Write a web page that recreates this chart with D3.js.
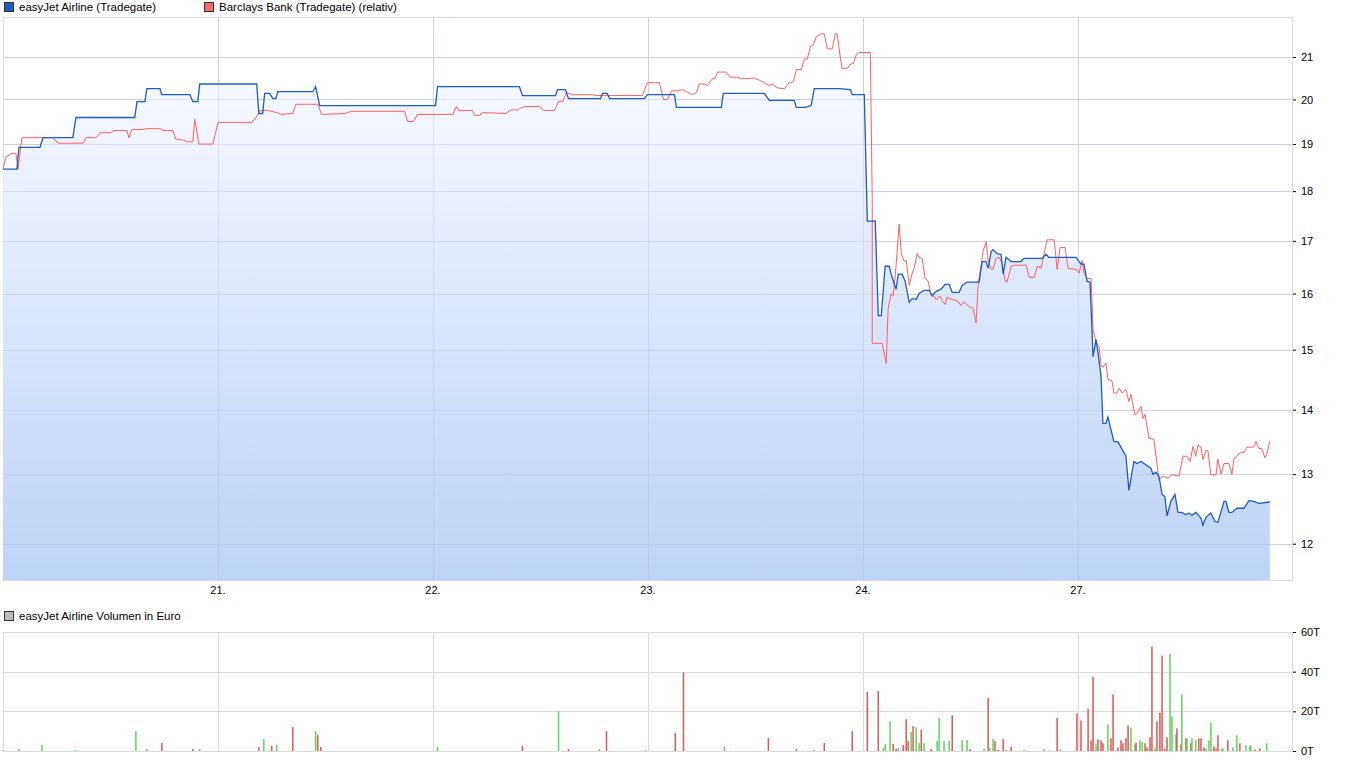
<!DOCTYPE html>
<html><head><meta charset="utf-8">
<script src="https://cdn.jsdelivr.net/npm/d3@7"></script>
<style>body{margin:0;background:#fff}svg{display:block;font-family:"Liberation Sans",Arial,sans-serif}</style>
</head><body><svg id="c" width="1350" height="766"></svg>
<script>
// day index: 0=20., 1=21., 2=22., 3=23., 4=24., 5=27.
const dayLabels = ["21.","22.","23.","24.","27."];
const dayTicks = [1,2,3,4,5];
const priceTicks = [12,13,14,15,16,17,18,19,20,21];
const volTicks = [0,20,40,60];
const volTickLabels = ["0T","20T","40T","60T"];

const easyT = [0,.065,.074,.172,.186,.325,.339,.613,.623,.660,.669,.730,.739,.869,.883,.906,.915,1.180,1.190,1.208,1.217,1.241,1.255,1.269,1.278,1.441,1.454,1.473,2.012,2.021,2.402,2.416,2.570,2.579,2.616,2.630,2.779,2.788,2.811,2.821,2.983,2.997,3.123,3.132,3.341,3.350,3.541,3.564,3.680,3.690,3.731,3.759,3.773,3.889,3.941,3.950,4.006,4.020,4.057,4.071,4.085,4.103,4.122,4.131,4.154,4.164,4.182,4.196,4.215,4.229,4.247,4.261,4.284,4.308,4.322,4.340,4.363,4.382,4.401,4.415,4.447,4.461,4.484,4.540,4.554,4.572,4.582,4.596,4.605,4.624,4.642,4.652,4.665,4.689,4.735,4.749,4.833,4.851,4.865,4.991,5.014,5.028,5.042,5.056,5.070,5.084,5.093,5.107,5.116,5.130,5.139,5.167,5.186,5.223,5.237,5.260,5.274,5.293,5.339,5.349,5.363,5.377,5.391,5.404,5.414,5.432,5.451,5.465,5.483,5.502,5.516,5.530,5.548,5.572,5.581,5.595,5.618,5.637,5.651,5.679,5.688,5.702,5.716,5.739,5.772,5.795,5.818,5.841,5.892];
const easyV = [18.46,18.46,18.93,18.93,19.14,19.14,19.59,19.59,19.95,19.95,20.25,20.25,20.11,20.11,19.95,19.95,20.36,20.36,19.68,19.68,20.14,20.14,20.02,20.02,20.18,20.18,20.30,19.86,19.86,20.30,20.30,20.09,20.09,20.23,20.23,20.02,20.02,20.14,20.14,20.02,20.02,20.11,20.11,19.82,19.82,20.14,20.14,19.98,19.98,19.82,19.82,19.86,20.25,20.25,20.23,20.11,20.11,17.39,17.39,15.60,15.60,16.51,16.51,16.36,16.08,16.36,16.36,16.23,15.84,15.91,15.89,16.00,16.06,16.06,15.96,16.04,16.08,16.17,16.17,16.02,16.02,16.15,16.21,16.21,16.60,16.60,16.47,16.79,16.83,16.75,16.74,16.36,16.68,16.60,16.60,16.66,16.66,16.74,16.68,16.68,16.55,16.55,16.23,16.21,14.88,15.18,14.95,14.55,13.78,13.78,13.88,13.50,13.49,13.27,12.76,13.19,13.16,13.19,13.09,13.00,13.03,12.96,12.70,12.67,12.39,12.60,12.70,12.44,12.44,12.41,12.43,12.40,12.44,12.36,12.26,12.37,12.43,12.31,12.30,12.60,12.60,12.44,12.44,12.50,12.50,12.61,12.60,12.57,12.59];

const barcT = [0,.014,.042,.060,.070,.088,.232,.256,.372,.386,.432,.455,.502,.516,.576,.586,.599,.646,.669,.730,.744,.790,.804,.836,.855,.883,.892,.911,.976,1.000,1.157,1.171,1.185,1.194,1.231,1.273,1.292,1.348,1.362,1.464,1.482,1.589,1.622,1.868,1.882,1.910,1.928,2.091,2.110,2.119,2.184,2.193,2.217,2.231,2.342,2.356,2.379,2.389,2.407,2.426,2.495,2.514,2.565,2.584,2.602,2.621,2.649,2.742,2.760,2.974,2.997,3.053,3.072,3.090,3.109,3.137,3.160,3.179,3.206,3.225,3.239,3.262,3.276,3.299,3.313,3.323,3.364,3.383,3.416,3.434,3.494,3.518,3.541,3.564,3.578,3.601,3.634,3.657,3.676,3.690,3.713,3.727,3.741,3.755,3.769,3.783,3.806,3.820,3.834,3.857,3.871,3.880,3.894,3.903,3.927,3.945,3.955,3.968,3.982,4.034,4.043,4.043,4.089,4.108,4.117,4.131,4.141,4.154,4.168,4.178,4.192,4.201,4.215,4.229,4.238,4.252,4.261,4.275,4.289,4.303,4.317,4.331,4.340,4.359,4.368,4.382,4.391,4.415,4.438,4.457,4.470,4.494,4.512,4.526,4.535,4.549,4.559,4.573,4.582,4.596,4.605,4.619,4.633,4.647,4.661,4.670,4.689,4.703,4.759,4.773,4.796,4.810,4.828,4.856,4.889,4.903,4.917,4.940,4.954,4.991,5.005,5.019,5.028,5.042,5.061,5.070,5.084,5.098,5.107,5.116,5.130,5.139,5.158,5.167,5.181,5.191,5.205,5.223,5.237,5.246,5.265,5.274,5.293,5.302,5.312,5.330,5.353,5.377,5.391,5.419,5.437,5.470,5.488,5.507,5.521,5.535,5.548,5.558,5.572,5.581,5.595,5.604,5.618,5.642,5.651,5.665,5.679,5.702,5.716,5.725,5.739,5.758,5.772,5.786,5.818,5.828,5.841,5.855,5.869,5.878,5.892];
const barcV = [18.46,18.72,18.80,18.80,18.46,19.14,19.14,19.02,19.02,19.14,19.14,19.25,19.25,19.30,19.30,19.14,19.32,19.32,19.34,19.34,19.30,19.30,19.11,19.09,19.05,19.05,19.55,19.00,19.00,19.48,19.48,19.55,19.66,19.75,19.75,19.70,19.66,19.68,19.89,19.89,19.66,19.68,19.73,19.73,19.50,19.50,19.66,19.66,19.84,19.75,19.75,19.64,19.64,19.70,19.68,19.75,19.77,19.75,19.80,19.84,19.84,19.75,19.75,19.95,19.95,20.16,20.11,20.11,20.09,20.09,20.39,20.39,20.00,20.00,20.20,20.20,20.23,20.18,20.11,20.16,20.36,20.36,20.32,20.48,20.50,20.64,20.64,20.52,20.52,20.48,20.50,20.45,20.39,20.32,20.36,20.27,20.25,20.39,20.41,20.70,20.70,20.95,20.95,21.25,21.30,21.50,21.57,21.57,21.20,21.20,21.57,21.57,21.00,20.73,20.73,20.84,20.84,21.05,21.11,21.11,17.82,15.11,15.11,14.77,15.73,16.00,15.96,16.53,17.33,16.75,16.60,16.62,16.15,16.38,16.47,16.75,16.68,16.66,16.28,16.23,15.96,15.95,15.89,15.95,15.87,15.80,15.93,15.89,15.87,15.78,15.85,15.76,15.73,15.47,16.13,16.53,16.81,16.98,16.62,16.45,16.45,16.66,16.68,16.57,16.23,16.21,16.51,16.53,16.53,16.30,16.30,16.51,16.47,17.02,17.02,16.45,16.87,16.87,16.47,16.45,16.38,16.62,16.38,16.28,16.28,15.36,15.13,15.05,14.75,14.70,14.77,14.50,14.47,14.27,14.27,14.35,14.27,14.33,14.13,14.25,13.92,13.94,14.05,13.86,13.92,13.55,13.53,12.91,12.97,12.94,12.99,12.97,13.27,13.27,13.19,13.42,13.27,13.44,13.41,13.22,13.36,13.36,12.99,12.99,13.23,13.00,13.16,13.16,13.00,13.23,13.27,13.33,13.33,13.41,13.41,13.50,13.39,13.39,13.25,13.30,13.50];

const volT = [0,.074,.181,.335,.618,.669,.739,.883,.915,1.190,1.213,1.250,1.273,1.348,1.454,1.464,1.478,2.021,2.416,2.584,2.630,2.774,2.807,2.988,3.127,3.165,3.355,3.560,3.690,3.722,3.773,3.820,3.950,4.020,4.071,4.094,4.103,4.126,4.140,4.154,4.164,4.187,4.201,4.210,4.224,4.233,4.247,4.261,4.271,4.284,4.317,4.345,4.354,4.377,4.401,4.415,4.461,4.484,4.498,4.563,4.582,4.591,4.605,4.614,4.628,4.652,4.665,4.689,4.749,4.842,4.865,4.903,4.917,4.995,5.014,5.047,5.061,5.070,5.084,5.093,5.107,5.116,5.139,5.153,5.163,5.186,5.200,5.209,5.223,5.233,5.246,5.265,5.270,5.288,5.298,5.312,5.321,5.335,5.344,5.358,5.367,5.381,5.391,5.404,5.414,5.428,5.437,5.456,5.460,5.479,5.483,5.502,5.507,5.525,5.530,5.548,5.562,5.572,5.586,5.595,5.609,5.618,5.632,5.642,5.651,5.669,5.674,5.697,5.720,5.739,5.753,5.781,5.799,5.804,5.823,5.846,5.878];
const volV = [0.5,1,3,0.5,10,1,4,1,1,2,6,2.5,3,12,10,8,2,2,2.5,20,1,1,10,0.5,9,39.7,2,6.5,1,0.2,0.5,4,10,29.7,30.3,1.5,3.5,15,3.5,1,1.5,3,16,5,9.6,12.6,12,4,10.6,4,1,5,16.6,5,5,18,5.5,5.5,1,1,26.7,1.5,6,5,0.5,6,0.5,2,0.5,1,0.2,16.8,0.8,19,15.4,21.4,5.4,37.5,3.4,5.9,5.4,3.9,13.4,6.4,28.5,1.8,5.4,3.9,6.4,12.9,11.9,3.4,4.2,5.4,4.7,3.9,1.8,6.9,52.6,1.3,14.9,19.3,48.1,1.3,6.9,49.1,17.4,8.4,11.4,3.4,28.5,6.4,6.4,3.9,6.4,5.4,6.4,6.4,1.8,1.3,5.4,14.4,2.3,1.3,7.9,1.3,1.3,5.4,1.8,7.9,3.9,2.8,2.3,2.8,0.8,1.3,3.9];
const volDir = "gggggg" + "rrg" + "rgrgrgrr" + "grgrgrgrrgrrggrrrr" + "gggrrgrrrgrggrgrggggrggrgrggrrrgrggrrg" + "rrrrrgrrrgrrrrrrrggrggrrrrgrrrrrgggrrgrgrggrrrgggrrrggrggrgggrrg";

const svg = d3.select("#c");
const L = 3, R = 1293, T = 17, B = 580, VT = 632, VB = 751;
const x = d3.scaleLinear().domain([0,6]).range([L, R]);
const y = d3.scaleLog().domain([11.51, 21.99]).range([B, T]);
const yv = d3.scaleLinear().domain([0,60]).range([VB, VT]);
const grid = "#dcdcdc";

const defs = svg.append("defs");
const g = defs.append("linearGradient").attr("id","fillg").attr("x1",0).attr("y1",0).attr("x2",0).attr("y2",1);
g.append("stop").attr("offset","0%").attr("stop-color","#f4f7fe");
g.append("stop").attr("offset","100%").attr("stop-color","#b7cff6");

svg.append("rect").attr("x",L+0.5).attr("y",T+0.5).attr("width",R-L-1).attr("height",B-T).attr("fill","none").attr("stroke",grid);
svg.append("g").selectAll("line").data(priceTicks).join("line")
  .attr("x1",L).attr("x2",R).attr("y1",d=>Math.round(y(d))+0.5).attr("y2",d=>Math.round(y(d))+0.5).attr("stroke",grid);
svg.append("g").selectAll("line").data(dayTicks).join("line")
  .attr("x1",d=>Math.round(x(d))+0.5).attr("x2",d=>Math.round(x(d))+0.5).attr("y1",T).attr("y2",B).attr("stroke",grid);

const easy = easyT.map((t,i)=>[t,easyV[i]]);
const barc = barcT.map((t,i)=>[t,barcV[i]]);
svg.append("path").datum(easy).attr("fill","url(#fillg)").attr("fill-opacity",0.92)
  .attr("d", d3.area().x(d=>x(d[0])).y0(B).y1(d=>y(d[1])));
svg.append("g").selectAll("line").data(priceTicks).join("line")
  .attr("x1",L).attr("x2",R).attr("y1",d=>Math.round(y(d))+0.5).attr("y2",d=>Math.round(y(d))+0.5).attr("stroke","#9fb3d6").attr("stroke-opacity",0.25);
svg.append("g").selectAll("line").data(dayTicks).join("line")
  .attr("x1",d=>Math.round(x(d))+0.5).attr("x2",d=>Math.round(x(d))+0.5).attr("y1",T).attr("y2",B).attr("stroke","#9fb3d6").attr("stroke-opacity",0.25);

svg.append("path").datum(barc).attr("fill","none").attr("stroke","#ff6060").attr("stroke-width",1)
  .attr("d", d3.line().x(d=>x(d[0])).y(d=>y(d[1])));
svg.append("path").datum(easy).attr("fill","none").attr("stroke","#1f5bc4").attr("stroke-width",1.3)
  .attr("d", d3.line().x(d=>x(d[0])).y(d=>y(d[1])));

const ax = svg.append("g").attr("transform",`translate(${R},0)`)
  .call(d3.axisRight(y).tickValues(priceTicks).tickFormat(d3.format("d")).tickSize(3).tickPadding(5));
ax.select(".domain").remove();
ax.selectAll("text").attr("font-size",11).attr("fill","#000").attr("font-family","Liberation Sans, Arial, sans-serif");
ax.selectAll("line").attr("stroke","#000");

svg.append("g").selectAll("text").data(dayTicks).join("text")
  .attr("x",d=>x(d)).attr("y",594).attr("text-anchor","middle").attr("font-size",11).text((d,i)=>dayLabels[i]);

function legend(xp, yp, col, txt){
  svg.append("rect").attr("x",xp+0.5).attr("y",yp+0.5).attr("width",9).attr("height",9).attr("fill",col).attr("stroke","#333");
  svg.append("text").attr("x",xp+15).attr("y",yp+9).attr("font-size",11.5).text(txt);
}
legend(4,2,"#1f5bc4","easyJet Airline (Tradegate)");
legend(204,2,"#ff6666","Barclays Bank (Tradegate) (relativ)");
legend(4,611,"#bbbbbb","easyJet Airline Volumen in Euro");

svg.append("rect").attr("x",L+0.5).attr("y",VT+0.5).attr("width",R-L-1).attr("height",VB-VT).attr("fill","none").attr("stroke",grid);
svg.append("g").selectAll("line").data(volTicks).join("line")
  .attr("x1",L).attr("x2",R).attr("y1",d=>Math.round(yv(d))+0.5).attr("y2",d=>Math.round(yv(d))+0.5).attr("stroke",grid);
svg.append("g").selectAll("line").data(dayTicks).join("line")
  .attr("x1",d=>Math.round(x(d))+0.5).attr("x2",d=>Math.round(x(d))+0.5).attr("y1",VT).attr("y2",VB).attr("stroke",grid);
svg.append("g").selectAll("rect").data(volT).join("rect")
  .attr("x",d=>x(d)-0.75).attr("width",1.5)
  .attr("y",(d,i)=>yv(volV[i])).attr("height",(d,i)=>VB-yv(volV[i]))
  .attr("fill",(d,i)=>volDir[i]==="g"?"#5ed35e":"#e05555");
const av = svg.append("g").attr("transform",`translate(${R},0)`)
  .call(d3.axisRight(yv).tickValues(volTicks).tickFormat((d,i)=>volTickLabels[i]).tickSize(3).tickPadding(5));
av.select(".domain").remove();
av.selectAll("text").attr("font-size",11).attr("fill","#000").attr("font-family","Liberation Sans, Arial, sans-serif");
av.selectAll("line").attr("stroke","#000");
</script></body></html>
